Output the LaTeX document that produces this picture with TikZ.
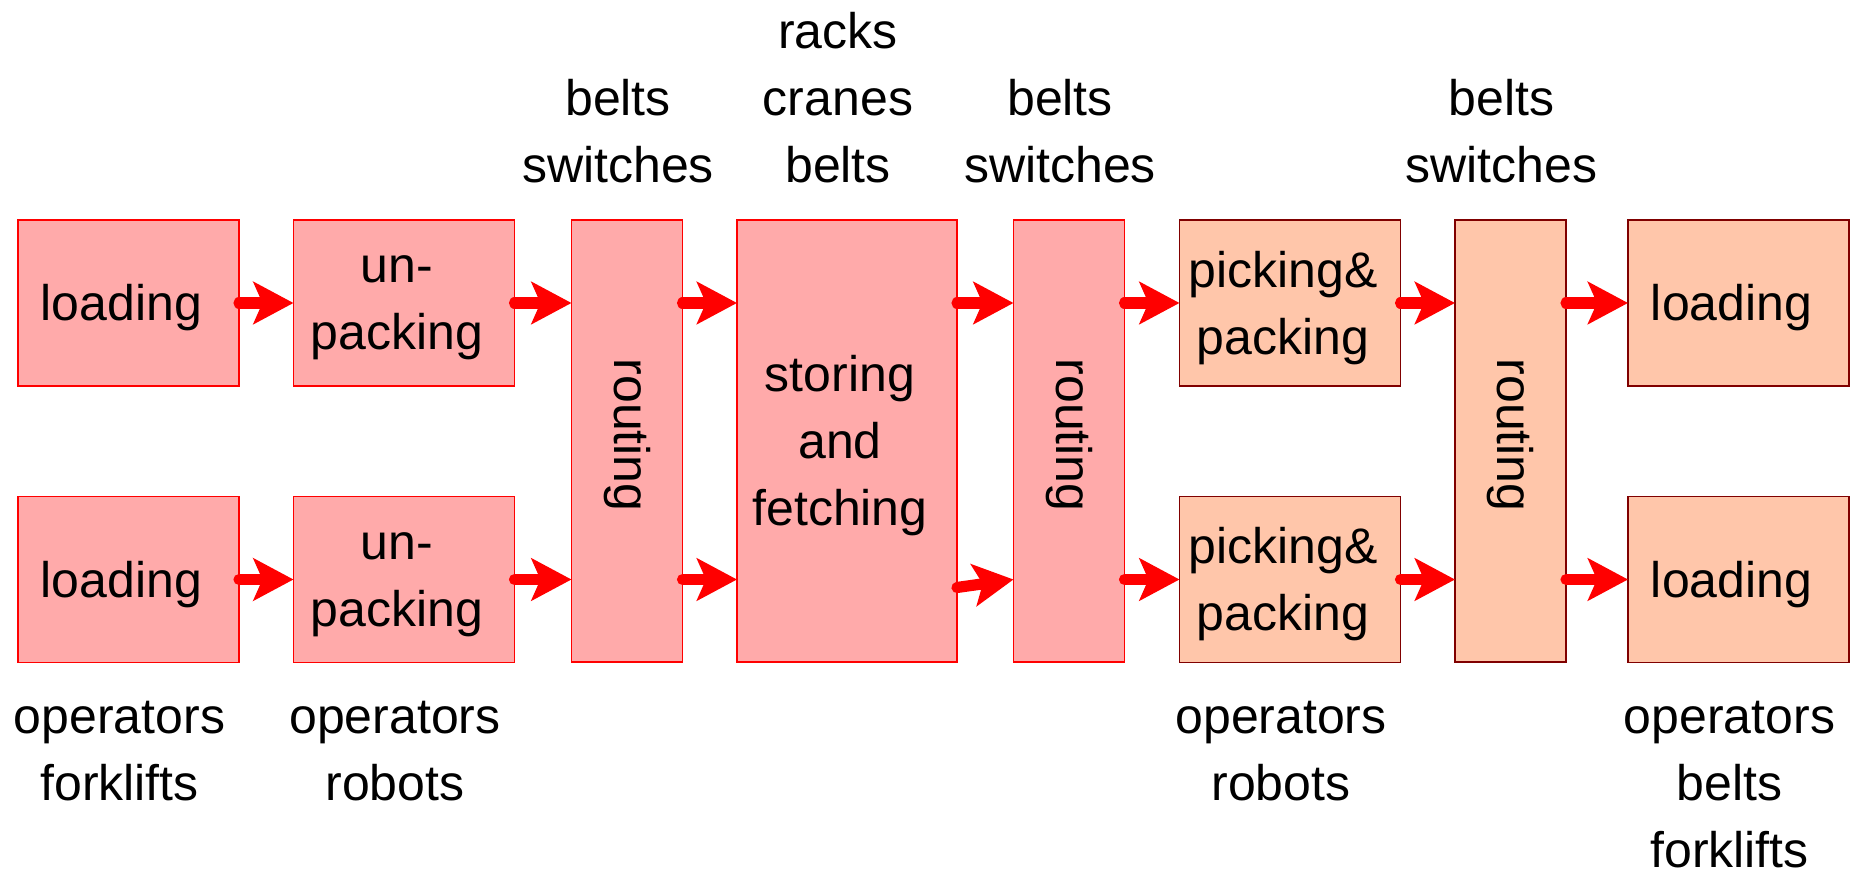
\documentclass[tikz,border=0pt]{standalone}
\usepackage{fontspec}
\setmainfont{Liberation Sans}
\usetikzlibrary{arrows.meta,calc}
\definecolor{pinkfill}{RGB}{255,170,170}
\definecolor{peachfill}{RGB}{255,198,170}
\definecolor{darkrim}{RGB}{128,0,0}

\begin{document}
\begin{tikzpicture}[x=0.5pt,y=0.5pt,yscale=-1,xscale=1,
  font=\fontsize{25}{33.5}\selectfont,
  box/.style={line width=0.75pt,inner sep=0pt,outer sep=0pt,minimum width=110.5pt,minimum height=83pt},
  pinkbox/.style={box,draw=red,fill=pinkfill},
  peachbox/.style={box,draw=darkrim,fill=peachfill},
  tallbox/.style={minimum width=55.5pt,minimum height=221pt},
  flow/.style={draw=red,line width=5.6pt,line cap=round,-{Stealth[length=20pt,width=21pt,inset=4.5pt]}},
  tag/.style={inner sep=0pt,align=center}]
\useasboundingbox (0,0) rectangle (1855,870);

%Shape: Rectangle
\draw (128.5,303) node [pinkbox] (loadA) {};
%Shape: Rectangle
\draw (128.5,579.5) node [pinkbox] (loadB) {};
%Shape: Rectangle
\draw (404,303) node [pinkbox] (unpA) {};
%Shape: Rectangle
\draw (404,579.5) node [pinkbox] (unpB) {};
%Shape: Rectangle
\draw (627,441) node [pinkbox,tallbox] (routA) {};
%Shape: Rectangle
\draw (847,441) node [pinkbox,tallbox,minimum width=110pt] (store) {};
%Shape: Rectangle
\draw (1069,441) node [pinkbox,tallbox] (routB) {};
%Shape: Rectangle
\draw (1290,303) node [peachbox] (pickA) {};
%Shape: Rectangle
\draw (1290,579.5) node [peachbox] (pickB) {};
%Shape: Rectangle
\draw (1510.5,441) node [peachbox,tallbox] (routC) {};
%Shape: Rectangle
\draw (1738.5,303) node [peachbox] (loadC) {};
%Shape: Rectangle
\draw (1738.5,579.5) node [peachbox] (loadD) {};

%Straight Lines
\draw [flow] (loadA.east) -- (unpA.west);
\draw [flow] (loadB.east) -- (unpB.west);
\draw [flow] (unpA.east) -- (routA.west |- unpA);
\draw [flow] (unpB.east) -- (routA.west |- unpB);
\draw [flow] (routA.east |- unpA) -- (store.west |- unpA);
\draw [flow] (routA.east |- unpB) -- (store.west |- unpB);
\draw [flow] (store.east |- pickA) -- (routB.west |- pickA);
\draw [flow] ($(store.east |- pickB)+(0,8)$) -- (routB.west |- pickB);
\draw [flow] (routB.east |- pickA) -- (pickA.west);
\draw [flow] (routB.east |- pickB) -- (pickB.west);
\draw [flow] (pickA.east) -- (routC.west |- pickA);
\draw [flow] (pickB.east) -- (routC.west |- pickB);
\draw [flow] (routC.east |- loadC) -- (loadC.west);
\draw [flow] (routC.east |- loadD) -- (loadD.west);

% Text Node
\draw (121.5,308) node [tag] (loadAtext) {loading};
% Text Node
\draw (121.5,584.5) node [tag] (loadBtext) {loading};
% Text Node
\draw (397,308) node [tag] (unpAtext) {un-\\packing};
% Text Node
\draw (397,584.5) node [tag] (unpBtext) {un-\\packing};
% Text Node
\draw (627,435) node [tag,rotate=-90] (routAtext) {routing};
% Text Node
\draw (840,446) node [tag] (storetext) {storing\\and\\fetching};
% Text Node
\draw (1069,435) node [tag,rotate=-90] (routBtext) {routing};
% Text Node
\draw (1283,308) node [tag] (pickAtext) {picking\&\\packing};
% Text Node
\draw (1283,584.5) node [tag] (pickBtext) {picking\&\\packing};
% Text Node
\draw (1510.5,435) node [tag,rotate=-90] (routCtext) {routing};
% Text Node
\draw (1731.5,308) node [tag] (loadCtext) {loading};
% Text Node
\draw (1731.5,584.5) node [tag] (loadDtext) {loading};

% Text Node
\draw (618,183) node [tag,anchor=south] (resA) {belts\\switches};
% Text Node
\draw (838,183) node [tag,anchor=south] (resB) {racks\\cranes\\belts};
% Text Node
\draw (1060,183) node [tag,anchor=south] (resC) {belts\\switches};
% Text Node
\draw (1501.5,183) node [tag,anchor=south] (resD) {belts\\switches};
% Text Node
\draw (119.5,701) node [tag,anchor=north] (resE) {operators\\forklifts};
% Text Node
\draw (395,701) node [tag,anchor=north] (resF) {operators\\robots};
% Text Node
\draw (1281,701) node [tag,anchor=north] (resG) {operators\\robots};
% Text Node
\draw (1729.5,701) node [tag,anchor=north] (resH) {operators\\belts\\forklifts};

\end{tikzpicture}
\end{document}
